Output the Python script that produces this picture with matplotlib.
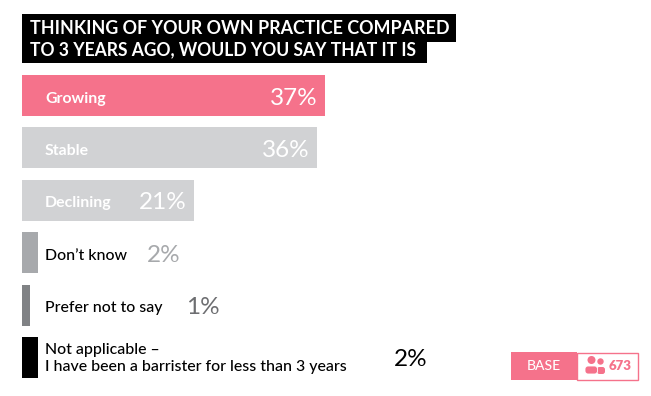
import matplotlib
matplotlib.use("Agg")
import matplotlib.pyplot as plt
from matplotlib.patches import Rectangle, Circle, FancyBboxPatch

plt.rcParams['font.family'] = ['Lato', 'DejaVu Sans']

title_lines = ["THINKING OF YOUR OWN PRACTICE COMPARED", "TO 3 YEARS AGO, WOULD YOU SAY THAT IT IS"]
categories = ["Growing", "Stable", "Declining", "Don\u2019t know", "Prefer not to say",
              "Not applicable \u2013\nI have been a barrister for less than 3 years"]
values = [37, 36, 21, 2, 1, 2]
bar_colors = ["#f5728b", "#d1d2d4", "#d1d2d4", "#a7a9ac", "#808285", "#000000"]
label_colors = ["white", "white", "white", "black", "black", "black"]
value_colors = ["white", "white", "white", "#a7a9ac", "#6d6e71", "black"]
base_label = "BASE"
base_n = "673"

W, H = 651, 396
fig = plt.figure(figsize=(W / 100, H / 100), dpi=100, facecolor="white")

# overlay in pixel coords, for title and base box
bg = fig.add_axes([0, 0, 1, 1])
bg.set_xlim(0, W)
bg.set_ylim(H, 0)
bg.axis("off")

# title
bg.add_patch(Rectangle((22, 14), 434, 28, color="black", lw=0))
bg.add_patch(Rectangle((22, 42), 405, 21, color="black", lw=0))
bg.text(30, 28.5, title_lines[0], color="white", fontsize=12.9, fontweight="bold", va="center")
bg.text(30, 49.5, title_lines[1], color="white", fontsize=12.65, fontweight="bold", va="center")

# bars
ax = fig.add_axes([22 / W, 1 - 378 / H, (W - 22) / W, (378 - 75) / H])
ax.patch.set_alpha(0)
ax.set_xlim(0, (W - 22) / 8.19)
ax.set_ylim(5.39, -0.39)
ax.axis("off")
y = list(range(len(values)))
ax.barh(y, values, height=0.78, color=bar_colors, linewidth=0)

val_pos = [None, None, None, 180.5, 220, 428]
for i, v in enumerate(values):
    # labels are positioned in pixels, from the bar rows
    trans = ax.get_yaxis_transform()
    label_y = i + (0.02 if i == 5 else 0.06)
    ax.text(23 / (W - 22), label_y, categories[i], transform=trans, color=label_colors[i],
            fontsize=11.4, fontweight="bold" if i < 3 else "medium", va="center", linespacing=1.22)
    if val_pos[i] is None:
        ax.text(v - 0.9, i + 0.05, f"{v}%", color=value_colors[i], fontsize=17.5, ha="right", va="center")
    else:
        ax.text((val_pos[i] - 22) / 8.19, i + (0.04 if i == 5 else 0.05), f"{v}%", color=value_colors[i],
                fontsize=17.5, ha="right", va="center")

# base box
pink = "#f5728b"
bg.add_patch(Rectangle((511, 352), 66, 28, color=pink, lw=0))
bg.add_patch(Rectangle((577, 352.5), 61, 27, fc="white", ec=pink, lw=1))
bg.text(544, 365.5, base_label, color="white", fontsize=10, fontweight="medium", ha="center", va="center")
bg.text(620.5, 365.5, base_n, color=pink, fontsize=9.5, fontweight="heavy", ha="center", va="center")

# people icon
bg.add_patch(Circle((591.5, 360), 4, color=pink, lw=0))
bg.add_patch(Circle((600.5, 361.5), 3.2, color=pink, lw=0))
bg.add_patch(FancyBboxPatch((597, 367), 8, 7, boxstyle="round,pad=0,rounding_size=2.5", color=pink, lw=0))
bg.add_patch(FancyBboxPatch((585, 366), 12.5, 8, boxstyle="round,pad=0,rounding_size=3", fc=pink, ec="white", lw=0.6))

fig.savefig("out.png", dpi=100)
